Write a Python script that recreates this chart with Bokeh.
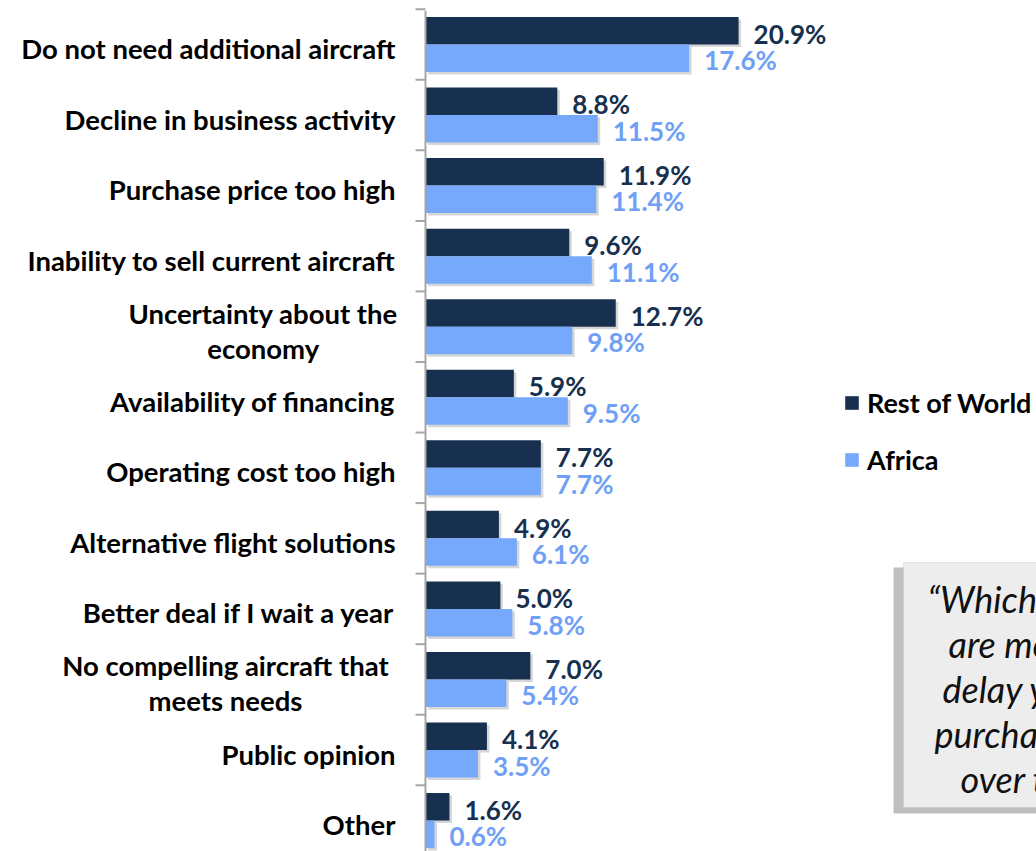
from bokeh.plotting import figure
from bokeh.models import Range1d, Legend, LegendItem, ColumnDataSource, BoxAnnotation
from bokeh.core.properties import value
from bokeh.embed import file_html
from bokeh.resources import INLINE

# ---------------- data ----------------
categories = [
    "Do not need additional aircraft",
    "Decline in business activity",
    "Purchase price too high",
    "Inability to sell current aircraft",
    "Uncertainty about the\neconomy",
    "Availability of financing",
    "Operating cost too high",
    "Alternative flight solutions",
    "Better deal if I wait a year",
    "No compelling aircraft that\nmeets needs",
    "Public opinion",
    "Other",
]
rest_of_world = [20.9, 8.8, 11.9, 9.6, 12.7, 5.9, 7.7, 4.9, 5.0, 7.0, 4.1, 1.6]
africa = [17.6, 11.5, 11.4, 11.1, 9.8, 9.5, 7.7, 6.1, 5.8, 5.4, 3.5, 0.6]
series_names = ["Rest of World", "Africa"]
question_lines = [
    "\u201cWhich of these factors",
    "are most likely to",
    "delay your aircraft",
    "purchase decisions",
    "over the next year?\u201d",
]

# ---------------- layout ----------------
W, H, OFF = 1036, 851, 0
PX_PER_PCT = 14.98      # pixels per percentage point
AXIS_X = 425            # page x of the value axis
ROW0, ROW = 44, 70.55   # page y of first category centre, row pitch

def X(px):
    return (px - AXIS_X) / PX_PER_PCT

def Y(py):
    return (py - ROW0) / ROW

DARK = "#17304F"
LIGHT = "#76A9FB"
DARK_TXT = "#17304F"
LIGHT_TXT = "#6FA0F5"
FONT = value("Lato")

p = figure(width=W, height=H,
           x_range=Range1d(X(OFF), X(OFF + W)),
           y_range=Range1d(Y(OFF + H), Y(OFF)),
           x_axis_location=None, y_axis_location=None,
           output_backend="svg", toolbar_location=None,
           min_border=0, outline_line_color=None)
p.xgrid.visible = False
p.ygrid.visible = False

n = len(categories)
idx = list(range(n))
half = 0.195
bh = 0.39
y_row = [i - half for i in idx]
y_afr = [i + half for i in idx]
sx = 2.5 / PX_PER_PCT
sy = 2.5 / ROW

src = ColumnDataSource(dict(
    y_row=y_row, y_afr=y_afr,
    row=rest_of_world, afr=africa,
    row_s=[v + sx for v in rest_of_world], afr_s=[v + sx for v in africa],
    y_row_s=[v + sy for v in y_row], y_afr_s=[v + sy for v in y_afr],
    row_lx=[v + 1.0 for v in rest_of_world], afr_lx=[v + 1.0 for v in africa],
    row_ly=[v + 3 / ROW for v in y_row], afr_ly=[v + 2 / ROW for v in y_afr],
    row_t=[f"{v:.1f}%" for v in rest_of_world],
    afr_t=[f"{v:.1f}%" for v in africa],
))

# shadows
p.hbar(y="y_row_s", left=sx, right="row_s", height=bh, source=src,
       fill_color="black", fill_alpha=0.16, line_color=None)
p.hbar(y="y_afr_s", left=sx, right="afr_s", height=bh, source=src,
       fill_color="black", fill_alpha=0.16, line_color=None)
# bars
r_dark = p.hbar(y="y_row", left=0, right="row", height=bh, source=src,
                fill_color=DARK, line_color=None)
r_light = p.hbar(y="y_afr", left=0, right="afr", height=bh, source=src,
                 fill_color=LIGHT, line_color=None)

# value labels
p.text(x="row_lx", y="row_ly", text="row_t", source=src, text_font=FONT,
       text_font_style="bold", text_font_size="26px", text_baseline="middle",
       text_color=DARK_TXT)
p.text(x="afr_lx", y="afr_ly", text="afr_t", source=src, text_font=FONT,
       text_font_style="bold", text_font_size="26px", text_baseline="middle",
       text_color=LIGHT_TXT)

# category labels
LINE_H = 35
CHAR_W = 12.6
single = dict(x=[], y=[], t=[])
multi = dict(x=[], y=[], t=[])
for i, c in enumerate(categories):
    lines = c.split("\n")
    if len(lines) == 1:
        single["x"].append(X(395))
        single["y"].append(i + 4 / ROW)
        single["t"].append(c)
    else:
        w = max(len(l) for l in lines) * CHAR_W
        cx = X(395 - w / 2)
        for k, l in enumerate(lines):
            multi["x"].append(cx)
            multi["y"].append(i + (4 + (k - (len(lines) - 1) / 2) * LINE_H) / ROW)
            multi["t"].append(l)
p.text(x="x", y="y", text="t", source=ColumnDataSource(single), text_font=FONT,
       text_font_style="bold", text_font_size="27.5px", text_align="right",
       text_baseline="middle", text_color="black")
p.text(x="x", y="y", text="t", source=ColumnDataSource(multi), text_font=FONT,
       text_font_style="bold", text_font_size="27.5px", text_align="center",
       text_baseline="middle", text_color="black")

# axis line and ticks between categories
bounds = [k - 0.5 for k in range(n + 1)]
p.segment(x0=[X(415)] * len(bounds), x1=[0] * len(bounds), y0=bounds, y1=bounds,
          line_color="#A6A6A6", line_width=2)
p.segment(x0=[0], x1=[0], y0=[-0.48], y1=[n + 0.5], line_color="#A6A6A6", line_width=2)

# legend (location in screen px from the frame's bottom-left corner)
leg_top = 392
leg_h = 30 + 24 + 30
legend = Legend(items=[LegendItem(label=series_names[0], renderers=[r_dark]),
                       LegendItem(label=series_names[1], renderers=[r_light])],
                location=(843, H - (leg_top + leg_h)), orientation="vertical",
                glyph_width=17, glyph_height=17, label_height=30, spacing=24,
                label_standoff=7, padding=0, margin=0,
                border_line_color=None, background_fill_alpha=0,
                label_text_font="Lato", label_text_font_style="bold",
                label_text_font_size="27px", label_text_color="black")
p.add_layout(legend)

# question box (runs off the right edge, as in the reference)
p.add_layout(BoxAnnotation(left=X(893), right=X(1400), top=Y(567), bottom=Y(813),
                           fill_color="#8A8A8A", fill_alpha=0.55, line_color=None,
                           level="underlay"))
p.add_layout(BoxAnnotation(left=X(903), right=X(1400), top=Y(562), bottom=Y(807),
                           fill_color="#EDEDED", fill_alpha=1.0,
                           line_color="#BDBDBD", line_width=1, level="underlay"))
q_start = [927, 948, 942, 934, 960]
p.text(x=[X(s) for s in q_start],
       y=[Y(598 + 45 * k) for k in range(len(question_lines))],
       text=question_lines, text_font=FONT, text_font_style="italic",
       text_font_size="36px", text_align="left", text_baseline="middle",
       text_color="#111111")

open("out.html", "w").write(file_html(p, INLINE))
